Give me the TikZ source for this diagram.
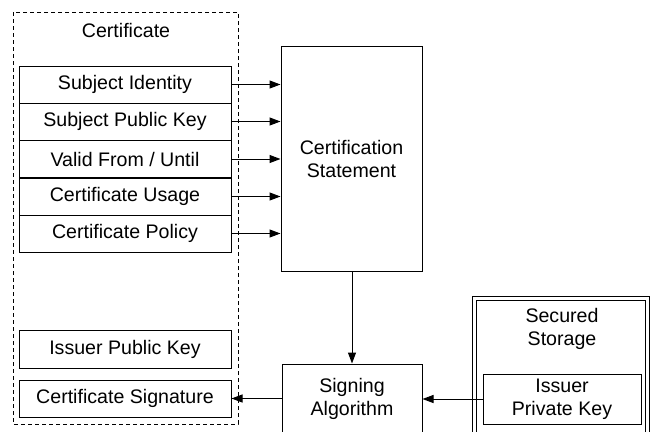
\documentclass[tikz,border=0pt]{standalone}
\usepackage{fontspec}
\setmainfont{Liberation Sans}
\usetikzlibrary{arrows.meta}
\begin{document}
\begin{tikzpicture}[x=1pt,y=-1pt,
  every node/.style={font=\fontsize{19.6}{23}\selectfont},
  box/.style={draw, line width=1pt, rectangle, inner sep=0pt, align=center},
  field/.style={box, minimum width=212pt, minimum height=37pt},
  arr/.style={line width=1pt, -{Triangle[length=11pt,width=8pt]}},
  dashbox/.style={draw, line width=1pt, dash pattern=on 4pt off 3pt}
]
\useasboundingbox (0,0) rectangle (652,431);
\draw[dashbox] (13,12) rectangle (238,424);
\node (certlbl) at (126,30) {Certificate};
\node[field] (f1) at (125,84.5) {Subject Identity};
\node[field] (f2) at (125,121.5) {Subject Public Key};
\node[field] (f3) at (125,159) {Valid From / Until};
\node[field] (f4) at (125,196.5) {Certificate Usage};
\node[field] (f5) at (125,233.5) {Certificate Policy};
\node[field, minimum height=38pt] (ipk) at (125,349) {Issuer Public Key};
\node[field] (csig) at (125,398.5) {Certificate Signature};
\node[box, minimum width=141pt, minimum height=225pt] (stmt) at (351.5,158.5) {Certification\\Statement};
\node[box, minimum width=140pt, minimum height=76pt] (sign) at (352,402) {};
\node (signlbl) at (352,399) [align=center] {Signing\\Algorithm};
\draw[line width=1pt, double, double distance=2.5pt] (474.5,298.5) rectangle (647.5,445);
\node[align=center] (storelbl) at (562,329) {Secured\\Storage};
\node[box, minimum width=158pt, minimum height=50pt] (ipriv) at (562,399) {Issuer\\Private Key};
\foreach \f in {f1,f2,f3,f4,f5}
  \draw[arr] (\f.east) -- (\f.east -| stmt.west);
\draw[arr] (stmt.south -| sign.north) -- (sign.north);
\draw[arr] (ipriv.west) -- (ipriv.west -| sign.east);
\draw[arr] (csig.east -| sign.west) -- (csig.east);
\end{tikzpicture}
\end{document}
